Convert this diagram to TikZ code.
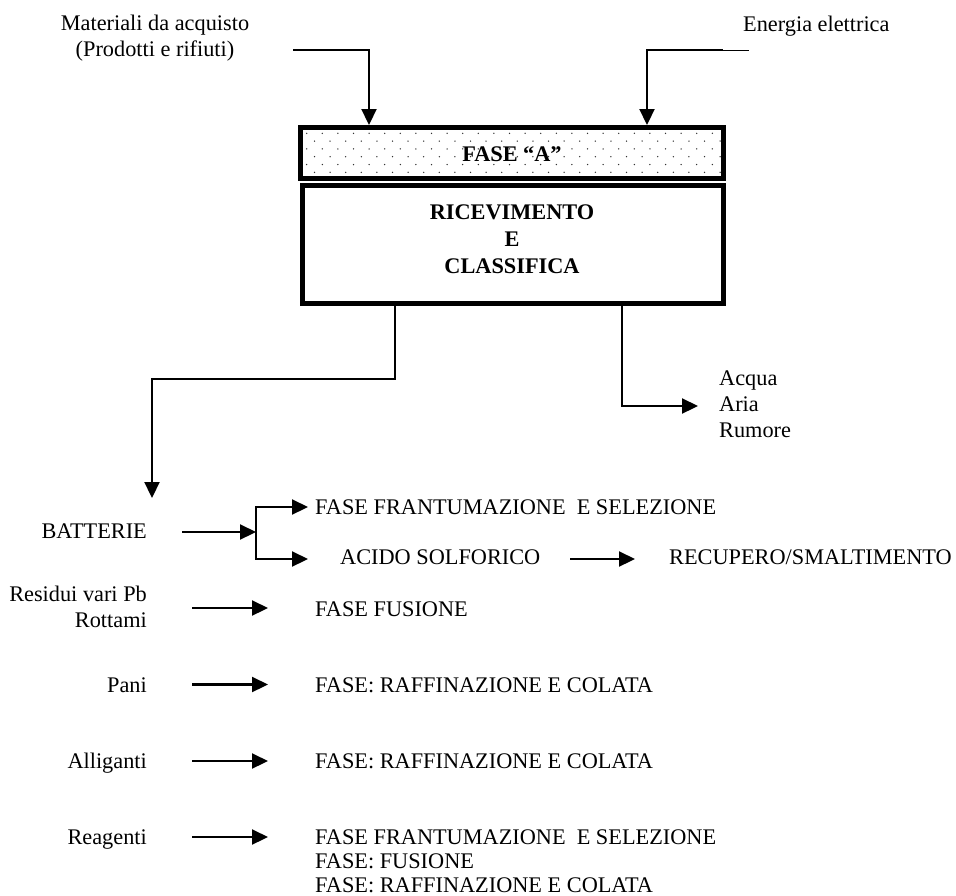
\documentclass[tikz,border=0pt]{standalone}
\usepackage{fontspec}
\setmainfont{Liberation Serif}
\usetikzlibrary{arrows.meta}
\begin{document}
\begin{tikzpicture}[x=1pt,y=-1pt,
  lbl/.style={font=\fontsize{22.3}{26}\selectfont, inner sep=0pt},
  boldlbl/.style={font=\fontsize{22.3}{27}\selectfont\bfseries, inner sep=0pt},
  conn/.style={line width=2.2pt, line join=miter, -{Triangle[length=16pt,width=15pt]}},
  wire/.style={line width=2.2pt, line join=miter},
  thickbox/.style={draw, line width=5pt, inner sep=0pt}]
\useasboundingbox (0,0) rectangle (956,895);

% --- inputs -------------------------------------------------------------
\node[lbl, anchor=base] (mat1) at (155,30) {Materiali da acquisto};
\node[lbl, anchor=base] (mat2) at (155,56) {(Prodotti e rifiuti)};
\node[lbl, anchor=base west] (ener) at (743,31) {Energia elettrica};

% --- phase header with dotted fill ---------------------------------------
\begin{scope}
  \clip (303,130) rectangle (721,176);
  \foreach \i in {0,...,5} {
    \pgfmathsetmacro\yy{133.3+7.8*\i}
    \pgfmathsetmacro\off{mod(\i,2)*7.8}
    \foreach \j in {0,...,27} {
      \fill[black!80] (306.7+\off+15.6*\j, \yy) circle (0.75pt);
    }
  }
\end{scope}
\node[thickbox, minimum width=423pt, minimum height=51pt] (fasea) at (512,153) {};
\node[boldlbl, anchor=base] (faseatxt) at (512,161.5) {FASE “A”};

% --- main process box ----------------------------------------------------
\node[thickbox, minimum width=421pt, minimum height=118.5pt] (ricev) at (513,244.25) {};
\node[boldlbl, anchor=base] (ric1) at (512,219) {RICEVIMENTO};
\node[boldlbl, anchor=base] (ric2) at (512,246) {E};
\node[boldlbl, anchor=base] (ric3) at (512,273) {CLASSIFICA};

% --- incoming connectors -------------------------------------------------
\coordinate (matstart) at (293,50);
\coordinate (matx) at (369,0);
\draw[conn] (matstart) -| (fasea.north -| matx);

\coordinate (enestart) at (723,50);
\coordinate (eneend) at (749,50);
\coordinate (enex) at (647,0);
\draw[conn] (enestart) -| (fasea.north -| enex);
\draw[line width=1pt] (enestart) -- (eneend);

% --- outgoing connectors -------------------------------------------------
\coordinate (lx) at (395,0);
\coordinate (lturn) at (152,379);
\coordinate (lend) at (152,498);
\draw[conn] (ricev.south -| lx) |- (lturn) -- (lend);

\coordinate (rx) at (622,0);
\coordinate (rend) at (698,406);
\draw[conn] (ricev.south -| rx) |- (rend);

\node[lbl, anchor=base west] (acq) at (719,385) {Acqua};
\node[lbl, anchor=base west] (aria) at (719,411) {Aria};
\node[lbl, anchor=base west] (rum) at (719,437) {Rumore};

% --- batteries -----------------------------------------------------------
\node[lbl, anchor=base east] (batt) at (147,538) {BATTERIE};
\coordinate (bs) at (182,532);
\coordinate (bj) at (256,532);
\coordinate (bt) at (256,507);
\coordinate (bb) at (256,559);
\coordinate (btt) at (308,507);
\coordinate (bbt) at (308,559);
\draw[conn] (bs) -- (bj);
\draw[conn] (bb) -- (bt) -- (btt);
\draw[conn] (bt) -- (bb) -- (bbt);

\node[lbl, anchor=base west] (frant) at (315,514) {FASE FRANTUMAZIONE~ E SELEZIONE};
\node[lbl, anchor=base west] (acido) at (340,564) {ACIDO SOLFORICO};
\coordinate (as) at (570,559);
\coordinate (ae) at (635,559);
\draw[conn] (as) -- (ae);
\node[lbl, anchor=base west] (recup) at (669,564) {RECUPERO/SMALTIMENTO};

% --- other materials -----------------------------------------------------
\node[lbl, anchor=base east] (resid) at (147,601) {Residui vari Pb};
\node[lbl, anchor=base east] (rott) at (147,627) {Rottami};
\coordinate (rs) at (192,608);
\coordinate (re) at (268,608);
\draw[conn] (rs) -- (re);
\node[lbl, anchor=base west] (fus) at (315,616) {FASE FUSIONE};

\node[lbl, anchor=base east] (pani) at (147,692) {Pani};
\coordinate (ps) at (192,684.5);
\coordinate (pe) at (268,684.5);
\draw[conn] (ps) -- (pe);
\node[lbl, anchor=base west] (praff) at (315,692) {FASE: RAFFINAZIONE E COLATA};

\node[lbl, anchor=base east] (allig) at (147,768) {Alliganti};
\coordinate (als) at (192,761);
\coordinate (ale) at (268,761);
\draw[conn] (als) -- (ale);
\node[lbl, anchor=base west] (araff) at (315,768) {FASE: RAFFINAZIONE E COLATA};

\node[lbl, anchor=base east] (reag) at (147,844) {Reagenti};
\coordinate (res) at (192,837);
\coordinate (ree) at (268,837);
\draw[conn] (res) -- (ree);
\node[lbl, anchor=base west] (rg1) at (315,844) {FASE FRANTUMAZIONE~ E SELEZIONE};
\node[lbl, anchor=base west] (rg2) at (315,868) {FASE: FUSIONE};
\node[lbl, anchor=base west] (rg3) at (315,892) {FASE: RAFFINAZIONE E COLATA};
\end{tikzpicture}
\end{document}
